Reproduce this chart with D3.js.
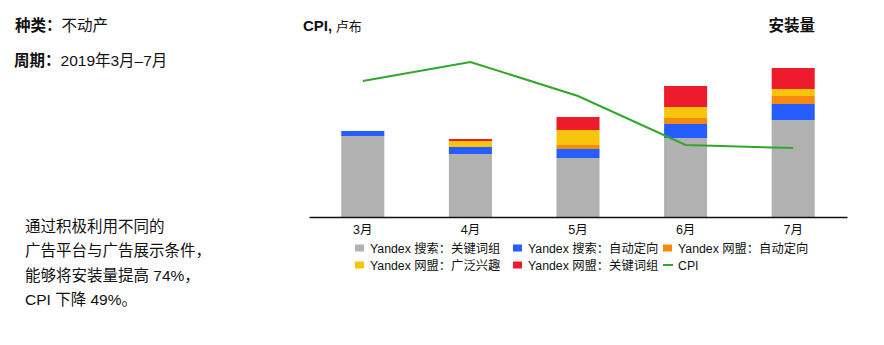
<!DOCTYPE html>
<html>
<head>
<meta charset="utf-8">
<script src="https://cdn.jsdelivr.net/npm/d3@7"></script>
<style>
  body { margin: 0; background: #fff; }
  svg text { font-family: "Liberation Sans", Arial, "Noto Sans CJK SC", sans-serif; fill: #111; }
</style>
</head>
<body>
<div id="chart"></div>
<script>
// Data (installs are in arbitrary units, CPI in rubles)
const months = ["3月", "4月", "5月", "6月", "7月"];
const searchKeywords = [81, 63, 59, 79, 97];
const searchAuto = [5, 7, 9, 14, 16];
const networkAuto = [0, 0, 4, 6, 8];
const networkInterests = [0, 6, 15, 11, 7];
const networkKeywords = [0, 2, 13, 21, 21];
const cpiValues = [136, 155, 121, 72, 69];

const seriesKeys = ["searchKeywords", "searchAuto", "networkAuto", "networkInterests", "networkKeywords"];
const seriesNames = ["Yandex 搜索：关键词组", "Yandex 搜索：自动定向", "Yandex 网盟：自动定向", "Yandex 网盟：广泛兴趣", "Yandex 网盟：关键词组"];
const seriesColors = ["#b1b1b1", "#255dff", "#f68a0e", "#f9c40c", "#ee1b2c"];
const cpiColor = "#2fa82a";

(function() {
    const width = 884, height = 345;
    const plot = { left: 309, right: 847, top: 57, bottom: 217 };

    const rows = months.map((m, i) => ({
        month: m,
        searchKeywords: searchKeywords[i],
        searchAuto: searchAuto[i],
        networkAuto: networkAuto[i],
        networkInterests: networkInterests[i],
        networkKeywords: networkKeywords[i]
    }));

    const svg = d3.select("#chart").append("svg")
        .attr("width", width)
        .attr("height", height);

    const x = d3.scaleBand().domain(months).range([plot.left, plot.right])
        .paddingInner(0.6).paddingOuter(0.3);
    const y = d3.scaleLinear().domain([0, 160]).range([plot.bottom, plot.top]);
    const yCpi = d3.scaleLinear().domain([0, 160]).range([plot.bottom, plot.top]);

    // stacked bars
    const stacked = d3.stack().keys(seriesKeys)(rows);
    svg.append("g").selectAll("g").data(stacked).enter().append("g")
        .attr("fill", (d, i) => seriesColors[i])
        .selectAll("rect").data(d => d).enter().append("rect")
        .attr("x", d => x(d.data.month))
        .attr("y", d => y(d[1]))
        .attr("width", x.bandwidth())
        .attr("height", d => y(d[0]) - y(d[1]));

    // x axis: plain line with month labels
    const xAxis = d3.axisBottom(x).tickSize(0).tickPadding(8);
    const axisG = svg.append("g").attr("transform", `translate(0, ${plot.bottom})`).call(xAxis);
    axisG.select(".domain").attr("stroke", "#111").attr("stroke-width", 1.3);
    axisG.selectAll("text").attr("font-size", 12.5).attr("fill", "#111")
        .style("font-family", "\"Liberation Sans\", Arial, \"Noto Sans CJK SC\", sans-serif");

    // CPI line
    const line = d3.line()
        .x((d, i) => x(months[i]) + x.bandwidth() / 2)
        .y(d => yCpi(d));
    svg.append("path")
        .attr("fill", "none")
        .attr("stroke", cpiColor)
        .attr("stroke-width", 2)
        .attr("d", line(cpiValues));

    // headings
    const t1 = svg.append("text").attr("x", 15).attr("y", 31).attr("font-size", 15.5);
    t1.append("tspan").attr("font-weight", "bold").text("种类：");
    t1.append("tspan").text("不动产");

    const t2 = svg.append("text").attr("x", 14).attr("y", 66).attr("font-size", 15.5);
    t2.append("tspan").attr("font-weight", "bold").text("周期：");
    t2.append("tspan").text("2019年3月–7月");

    const t3 = svg.append("text").attr("x", 303).attr("y", 31).attr("font-size", 15);
    t3.append("tspan").attr("font-weight", "bold").text("CPI,");
    t3.append("tspan").attr("font-size", 13).text(" 卢布");

    svg.append("text").attr("x", 815).attr("y", 31).attr("font-size", 15.5)
        .attr("font-weight", "bold").attr("text-anchor", "end").text("安装量");

    // note on the left
    const note = ["通过积极利用不同的", "广告平台与广告展示条件，", "能够将安装量提高 74%，", "CPI 下降 49%。"];
    svg.append("g").selectAll("text").data(note).enter().append("text")
        .attr("x", 25)
        .attr("y", (d, i) => 231.5 + i * 24.5)
        .attr("font-size", 15.5)
        .text(d => d);

    // legend
    const legendItems = seriesNames.map((n, i) => ({ name: n, color: seriesColors[i], type: "rect" }))
        .concat([{ name: "CPI", color: cpiColor, type: "line" }]);
    const colX = [355, 513, 663];
    const rowY = [248, 265];
    const legend = svg.append("g").selectAll("g").data(legendItems).enter().append("g")
        .attr("transform", (d, i) => `translate(${colX[i % 3]}, ${rowY[Math.floor(i / 3)]})`);
    legend.filter(d => d.type === "rect").append("rect")
        .attr("x", 0).attr("y", -3.5).attr("width", 9).attr("height", 7)
        .attr("fill", d => d.color);
    legend.filter(d => d.type === "line").append("line")
        .attr("x1", 0).attr("x2", 10).attr("y1", 0).attr("y2", 0)
        .attr("stroke", d => d.color).attr("stroke-width", 2);
    legend.append("text")
        .attr("x", 15).attr("y", 4.5)
        .attr("font-size", 12.3)
        .text(d => d.name);
})();
</script>
</body>
</html>
